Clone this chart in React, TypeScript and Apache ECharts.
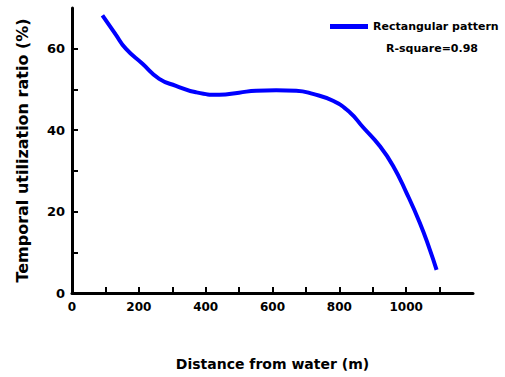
import React, { useEffect, useRef } from "react";
import * as echarts from "echarts";

const seriesName = "Rectangular pattern";
const rSquareText = "R-square=0.98";
const xTitle = "Distance from water (m)";
const yTitle = "Temporal utilization ratio (%)";

const distance = [91, 130, 161, 211, 261, 311, 371, 441, 500, 551, 611, 671, 721, 781, 831, 871, 921, 961, 1001, 1041, 1071, 1091];
const ratio = [68.2, 63.6, 60.0, 56.3, 52.6, 50.9, 49.3, 48.7, 49.2, 49.7, 49.8, 49.7, 48.9, 47.2, 44.4, 40.7, 36.1, 31.2, 24.6, 17.2, 10.6, 5.7];

const FONT = "DejaVu Sans";

export default function App() {
  const ref = useRef<HTMLDivElement>(null);
  useEffect(() => {
    if (!ref.current) return;
    const chart = echarts.init(ref.current, null, { renderer: "svg" });
    const data = distance.map((d, i) => [d, ratio[i]]);
    chart.setOption({
      animation: false,
      grid: { left: 72, right: 32, top: 8, bottom: 84, containLabel: false },
      legend: {
        left: 325,
        top: 16,
        icon: "rect",
        itemWidth: 38,
        itemHeight: 5,
        itemGap: 0,
        textStyle: { fontFamily: FONT, fontWeight: "bold", fontSize: 11, color: "#000" },
        data: [seriesName],
      },
      graphic: [
        {
          type: "text",
          x: 432,
          y: 48,
          style: {
            text: rSquareText,
            fontFamily: FONT,
            fontWeight: "bold",
            fontSize: 11,
            fill: "#000",
            textAlign: "center",
            textVerticalAlign: "middle",
          },
        },
      ],
      xAxis: {
        type: "value",
        min: 0,
        max: 1200,
        interval: 100,
        name: xTitle,
        nameLocation: "middle",
        nameGap: 64,
        nameTextStyle: { fontFamily: FONT, fontWeight: "bold", fontSize: 14, color: "#000" },
        axisLine: { show: true, lineStyle: { color: "#000", width: 3 } },
        axisTick: { show: true, inside: true, length: 6, lineStyle: { color: "#000", width: 2 } },
        axisLabel: {
          fontFamily: FONT,
          fontWeight: "bold",
          fontSize: 12,
          color: "#000",
          margin: 8,
          showMaxLabel: false,
          formatter: (v: number) => (v % 200 === 0 ? String(v) : ""),
        },
        splitLine: { show: false },
      },
      yAxis: {
        type: "value",
        min: 0,
        max: 70,
        interval: 10,
        name: yTitle,
        nameLocation: "middle",
        nameGap: 42,
        nameTextStyle: { fontFamily: FONT, fontWeight: "bold", fontSize: 16, color: "#000" },
        axisLine: { show: true, lineStyle: { color: "#000", width: 3 } },
        axisTick: { show: true, inside: true, length: 6, lineStyle: { color: "#000", width: 2 } },
        axisLabel: {
          fontFamily: FONT,
          fontWeight: "bold",
          fontSize: 13,
          color: "#000",
          margin: 7,
          showMaxLabel: false,
          formatter: (v: number) => (v % 20 === 0 ? String(v) : ""),
        },
        splitLine: { show: false },
      },
      series: [
        {
          name: seriesName,
          type: "line",
          data,
          smooth: true,
          showSymbol: false,
          lineStyle: { color: "#0000ff", width: 4 },
          itemStyle: { color: "#0000ff" },
        },
      ],
    });
    return () => chart.dispose();
  }, []);
  return <div ref={ref} style={{ width: 505, height: 377, position: "absolute", left: 0, top: 0 }} />;
}
